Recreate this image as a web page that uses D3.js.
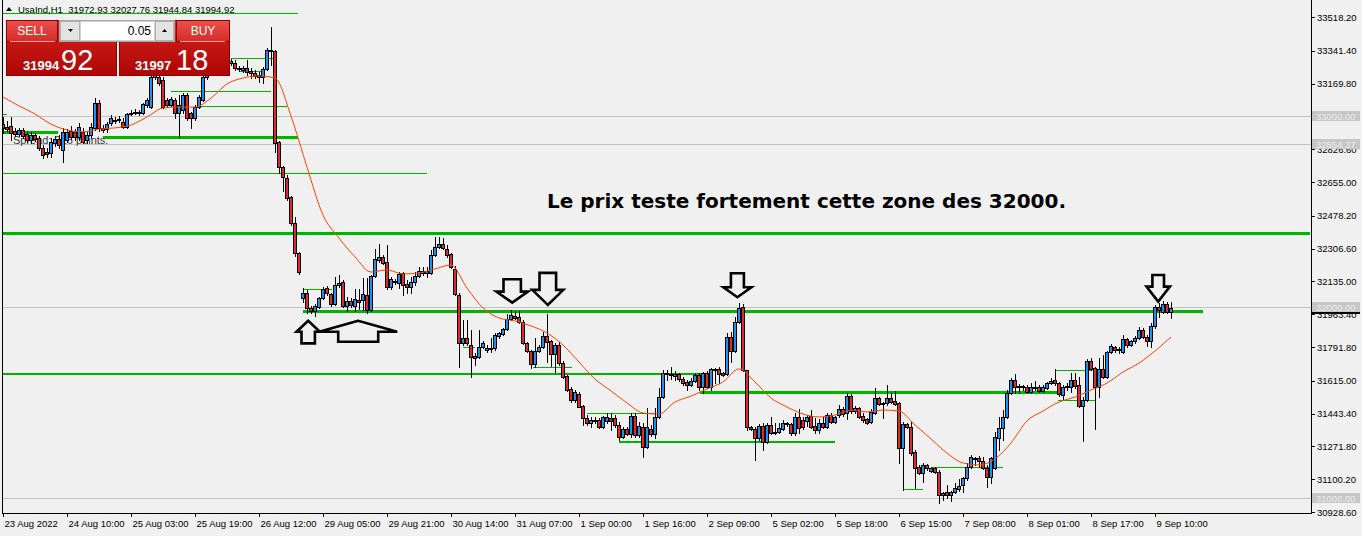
<!DOCTYPE html>
<html>
<head>
<meta charset="UTF-8">
<title>UsaInd,H1</title>
<style>
  body { margin: 0; background: #f0f0f0; overflow: hidden; }
  svg { display: block; font-family: "Liberation Sans", Arial, sans-serif; }
  .axis text { font-size: 9.5px; fill: #000; }
  .axis line { stroke: #000; shape-rendering: crispEdges; }
  .axis path { display: none; }
</style>
</head>
<body>
<svg id="chart" width="1362" height="536"></svg>
<script src="https://d3js.org/d3.v7.min.js"></script>
<script>
// symbole et prix du moment
var symbol = "UsaInd,H1";
var bid = 31994.92, ask = 31997.18, lot = "0.05";

// bougies H1 (ouverture, plus haut, plus bas, cloture)
var opens = [
  32958,32943,32948,32922,32906,32927,32906,32875,32901,32885,
  32833,32812,32807,32859,32880,32822,32875,32922,32917,32890,
  32917,32875,32901,32937,33068,32937,32932,32964,32974,32984,
  32969,32943,33011,33021,33016,33016,33058,33047,33204,33204,
  33189,33084,33058,33084,33016,33032,33110,33016,32990,33047,
  33084,33204,33251,33230,33272,33304,33283,33277,33277,33251,
  33241,33251,33236,33225,33215,33204,33246,33346,33340,32864,
  32733,32676,32576,32440,32284,32048,32074,31996,31980,32001,
  32048,32100,32069,32017,32116,32132,32006,32032,32006,32038,
  32038,32064,31985,32163,32247,32263,32236,32106,32132,32127,
  32179,32121,32106,32132,32163,32189,32179,32179,32273,32315,
  32331,32304,32278,32200,32064,31813,31839,31802,31745,31739,
  31792,31776,31781,31786,31849,31860,31886,31938,31954,31949,
  31923,31813,31771,31703,31771,31792,31849,31823,31755,31802,
  31708,31640,31572,31514,31546,31483,31420,31394,31405,31410,
  31373,31405,31420,31420,31384,31321,31363,31337,31431,31331,
  31373,31269,31363,31337,31426,31530,31656,31645,31640,31650,
  31624,31609,31593,31614,31645,31583,31656,31583,31677,31677,
  31656,31650,31844,31771,31923,32001,31671,31373,31363,31316,
  31379,31295,31384,31347,31347,31363,31389,31389,31342,31426,
  31410,31405,31431,31379,31358,31394,31373,31436,31400,31436,
  31467,31447,31535,31457,31473,31431,31415,31400,31447,31525,
  31499,31499,31525,31509,31499,31263,31389,31373,31243,31164,
  31133,31175,31143,31159,31138,31018,31033,31018,31033,31049,
  31070,31107,31164,31211,31211,31196,31159,31112,31159,31316,
  31368,31426,31551,31619,31588,31583,31583,31556,31583,31583,
  31562,31577,31603,31619,31603,31541,31583,31583,31619,31593,
  31483,31514,31719,31682,31583,31677,31635,31766,31792,31776,
  31766,31834,31802,31823,31839,31881,31844,31823,31902,32001,
  31975,32017,31972.93
];
var highs = [
  32995,32974,32995,32937,32937,32937,32922,32917,32911,32896,
  32849,32833,32885,32896,32901,32937,32932,32948,32932,32964,
  32937,32917,32964,33094,33084,32953,32969,33005,32995,33000,
  32990,33016,33032,33037,33032,33068,33094,33209,33262,33220,
  33204,33094,33099,33094,33110,33121,33121,33021,33058,33110,
  33215,33272,33277,33293,33319,33319,33309,33298,33293,33262,
  33262,33293,33251,33241,33230,33257,33356,33466,33346,32870,
  32739,32691,32582,32472,32289,32100,32090,32006,32017,32053,
  32106,32111,32074,32158,32168,32142,32053,32048,32095,32095,
  32153,32153,32168,32304,32331,32273,32325,32158,32147,32184,
  32184,32142,32158,32184,32210,32210,32210,32299,32367,32367,
  32362,32325,32284,32215,32074,31933,31933,31881,31760,31881,
  31823,31802,31839,31865,31870,31891,31964,31985,31980,31980,
  31933,31818,31776,31839,31802,31870,31964,31828,31813,31818,
  31719,31645,31583,31567,31556,31488,31436,31426,31426,31420,
  31431,31447,31447,31436,31400,31373,31373,31447,31447,31400,
  31394,31473,31384,31473,31577,31671,31671,31687,31666,31656,
  31635,31619,31630,31656,31656,31661,31666,31682,31682,31687,
  31661,31865,31870,31949,32022,32017,31671,31379,31373,31389,
  31394,31394,31426,31394,31394,31410,31400,31394,31447,31467,
  31426,31436,31462,31420,31415,31426,31447,31447,31431,31488,
  31478,31551,31546,31483,31478,31447,31420,31467,31577,31530,
  31504,31593,31551,31562,31504,31400,31394,31400,31253,31175,
  31185,31180,31164,31164,31148,31033,31070,31039,31080,31101,
  31112,31185,31227,31216,31222,31216,31175,31216,31347,31426,
  31462,31567,31630,31650,31598,31593,31593,31603,31614,31593,
  31593,31609,31630,31677,31609,31593,31603,31656,31656,31635,
  31530,31729,31734,31687,31734,31750,31771,31807,31797,31792,
  31855,31839,31828,31849,31897,31891,31855,31917,32012,32022,
  32032,32027,32027.76
];
var lows = [
  32911,32922,32875,32896,32896,32885,32864,32859,32870,32822,
  32781,32786,32786,32843,32833,32760,32864,32880,32875,32875,
  32859,32859,32885,32927,32922,32917,32917,32953,32964,32969,
  32937,32937,33005,33011,33005,33011,33047,33042,33194,33162,
  33042,33047,33053,32990,32890,33016,32979,32937,32979,33042,
  33079,33194,33215,33220,33256,33272,33272,33267,33241,33236,
  33230,33215,33199,33199,33178,33173,33241,33267,32812,32702,
  32608,32561,32430,32268,32174,32027,31970,31970,31954,31996,
  32043,32064,32006,32012,32106,32001,31980,32001,31980,31990,
  31985,31970,31980,32158,32236,32226,32095,32095,32121,32100,
  32064,32074,32074,32116,32158,32168,32158,32174,32268,32310,
  32304,32262,32205,32064,31687,31802,31802,31635,31698,31734,
  31786,31766,31766,31776,31839,31855,31881,31933,31938,31917,
  31808,31766,31682,31687,31766,31786,31713,31692,31661,31698,
  31630,31562,31504,31504,31478,31384,31384,31373,31394,31368,
  31368,31394,31358,31373,31305,31316,31331,31321,31321,31321,
  31216,31263,31326,31316,31420,31525,31619,31624,31619,31614,
  31593,31567,31588,31609,31567,31551,31577,31567,31604,31604,
  31640,31645,31713,31766,31917,31666,31358,31358,31201,31305,
  31253,31290,31337,31337,31342,31358,31379,31331,31331,31342,
  31363,31379,31368,31342,31342,31368,31368,31394,31394,31426,
  31431,31415,31447,31447,31420,31400,31389,31394,31441,31488,
  31420,31488,31499,31488,31185,31044,31368,31227,31054,31128,
  31086,31148,31138,31133,30976,30991,31002,30986,31028,31039,
  31033,31096,31159,31175,31164,31154,31060,31080,31154,31253,
  31305,31420,31546,31551,31551,31567,31551,31551,31567,31556,
  31556,31572,31598,31593,31535,31520,31567,31556,31577,31478,
  31300,31509,31671,31363,31530,31630,31630,31760,31766,31760,
  31760,31792,31797,31813,31834,31839,31797,31792,31891,31949,
  31970,31970,31944.84
];
var closes = [
  32937,32932,32911,32906,32927,32896,32875,32901,32880,32833,
  32796,32802,32864,32880,32849,32917,32917,32890,32890,32943,
  32864,32901,32943,33068,32937,32927,32958,32990,32979,32979,
  32943,33011,33016,33016,33021,33063,33084,33204,33241,33173,
  33047,33058,33089,33016,33058,33110,32990,32990,33047,33099,
  33204,33251,33230,33272,33304,33288,33293,33288,33251,33246,
  33251,33230,33225,33209,33204,33246,33346,33340,32859,32733,
  32681,32571,32440,32284,32184,32074,31996,31980,32006,32048,
  32095,32074,32017,32116,32127,32006,32032,32012,32043,32027,
  32069,31985,32163,32252,32263,32231,32106,32147,32137,32174,
  32116,32106,32132,32163,32189,32179,32189,32273,32315,32331,
  32310,32273,32210,32069,31813,31839,31813,31739,31734,31792,
  31813,31786,31786,31855,31865,31886,31938,31959,31943,31923,
  31813,31771,31703,31771,31792,31849,31818,31755,31802,31708,
  31635,31567,31514,31556,31478,31420,31394,31410,31410,31373,
  31426,31426,31405,31384,31321,31363,31337,31431,31331,31379,
  31269,31373,31337,31426,31530,31656,31650,31650,31650,31624,
  31603,31593,31614,31645,31583,31656,31583,31677,31671,31650,
  31645,31844,31771,31923,31996,31671,31373,31363,31316,31379,
  31295,31384,31342,31342,31368,31394,31394,31342,31426,31368,
  31373,31426,31373,31358,31394,31373,31436,31400,31426,31467,
  31441,31535,31457,31473,31426,31410,31394,31452,31525,31494,
  31494,31525,31504,31494,31263,31389,31373,31237,31159,31133,
  31175,31159,31159,31138,31018,31028,31018,31033,31054,31065,
  31107,31164,31216,31211,31196,31159,31112,31211,31321,31368,
  31426,31551,31619,31583,31583,31588,31556,31583,31577,31562,
  31583,31603,31614,31603,31546,31583,31588,31619,31588,31483,
  31514,31719,31677,31583,31677,31635,31766,31797,31776,31781,
  31834,31802,31823,31839,31881,31844,31823,31902,32001,31985,
  32017,31975,31994.92
];

// moyenne mobile, une valeur toutes les 4 bougies
var maStep = 4;
var maValues = [
  33100,33053,33011,32958,32927,32917,32932,32938,32953,32995,
  33042,33047,33047,33094,33168,33199,33210,33199,33000,32733,
  32482,32362,32263,32184,32195,32174,32179,32200,32221,32100,
  31996,31944,31928,31902,31865,31802,31713,31624,31562,31499,
  31447,31441,31504,31535,31572,31609,31677,31609,31525,31478,
  31441,31426,31436,31462,31452,31462,31457,31384,31311,31237,
  31185,31175,31206,31290,31405,31457,31504,31530,31567,31603,
  31661,31708,31771,31844
];

// graduations
var yTicks = [33518.2,33341.4,33169.8,32826.6,32655.0,32478.2,32306.6,32135.0,
              31963.4,31791.8,31615.0,31443.4,31271.8,31100.2,30928.6];
var xTickBars = [0,16,32,48,64,80,96,112,128,144,160,176,192,208,224,240,256,272,288];
var xTickLabels = ["23 Aug 2022","24 Aug 10:00","25 Aug 03:00","25 Aug 19:00","26 Aug 12:00",
  "29 Aug 05:00","29 Aug 21:00","30 Aug 14:00","31 Aug 07:00","1 Sep 00:00","1 Sep 16:00",
  "2 Sep 09:00","5 Sep 02:00","5 Sep 18:00","6 Sep 15:00","7 Sep 08:00","8 Sep 01:00",
  "8 Sep 17:00","9 Sep 10:00"];

// niveaux gris (prix ronds)
var greyLevels = [33000, 32854.37, 32000, 31000];

// niveaux verts traces a la main : prix, barre de debut, barre de fin
var levelPrices = [33541,33302,33236,33131,33053,33009,32917,32890,32702,32388,32095,
                   31980,31792,31687,31657,31556,31447,31300,31166,31049,31672,31515];
var levelFrom = [0,57,59.25,42,49,0,0,25,0,0,75,75,115,132.5,0,174.25,146,154,232.25,225,263.25,263.75];
var levelTo = [73.75,67.5,65,67,71,1,13.75,73.75,106,326.75,82.25,300,118,142.25,176,263.75,163,208,250,230,272.25,273];
var levelWidth = [1,1,1,1,1,1,3,3,1,3,1,2.5,1,1,2,3,1,2,1,1,1,1];

// fleches : barre, prix de la pointe, sens
var arrowBars = [76.3, 88.8, 127.3, 136.2, 183.6, 288.8];
var arrowPrices = [31929, 31929, 32024, 32012, 32052, 32029];
var arrowDirs = ["up","up","down","down","down","down"];
// taille : demi tete, demi corps, hauteur tete, longueur totale
var arrowShapes = [[11.7,6.7,11,22.6],[39,20,11,21],[15.8,8.7,11,23.4],[15.5,8.3,15,32],[14,6.5,10,24],[11.7,5.8,15,26.7]];

var noteText = "Le prix teste fortement cette zone des 32000.";
var noteBar = 136, notePrice = 32519;

var svg = d3.select("#chart");
var fmt = d3.format(".2f");

var x = d3.scaleLinear().domain([0, 292]).range([3, 1171]);
var y = d3.scaleLinear().domain([30928.6, 33518.2]).range([512, 17]);

var bars = opens.map(function(o, i) {
  return { i: i, o: o, h: highs[i], l: lows[i], c: closes[i] };
});

svg.append("rect").attr("width", 1362).attr("height", 536).attr("fill", "#f0f0f0");

var defs = svg.append("defs");
defs.append("clipPath").attr("id", "plot")
  .append("rect").attr("x", 2).attr("y", 0).attr("width", 1309).attr("height", 513);

function grad(id, c1, c2) {
  var g = defs.append("linearGradient").attr("id", id)
    .attr("x1", 0).attr("y1", 0).attr("x2", 0).attr("y2", 1);
  g.append("stop").attr("offset", "0%").attr("stop-color", c1);
  g.append("stop").attr("offset", "100%").attr("stop-color", c2);
}
grad("btnRed", "#ea4f4b", "#d62c28");
grad("priceRed", "#d62320", "#ad0604");

var plot = svg.append("g").attr("clip-path", "url(#plot)");

// lignes grises
plot.selectAll(".grey").data(greyLevels).enter().append("line")
  .attr("class", "grey")
  .attr("x1", 2).attr("x2", 1311)
  .attr("y1", function(d) { return Math.round(y(d)) + 0.5; })
  .attr("y2", function(d) { return Math.round(y(d)) + 0.5; })
  .attr("stroke", "#c3c3c3")
  .attr("shape-rendering", "crispEdges");

// lignes vertes
plot.selectAll(".lvl").data(levelPrices).enter().append("line")
  .attr("class", "lvl")
  .attr("x1", function(d, k) { return x(levelFrom[k]); })
  .attr("x2", function(d, k) { return x(levelTo[k]); })
  .attr("y1", function(d) { return Math.round(y(d)) + 0.5; })
  .attr("y2", function(d) { return Math.round(y(d)) + 0.5; })
  .attr("stroke", "#00b400")
  .attr("stroke-width", function(d, k) { return levelWidth[k]; })
  .attr("shape-rendering", "crispEdges");

// commentaire du spread
plot.append("text")
  .attr("x", 13).attr("y", 144)
  .style("font-size", "11px").attr("fill", "#3a3a3a")
  .text("Spread: " + Math.round((ask - bid) * 100) + " points.");

// bougies : meche d'un pixel, corps de 4 pixels (2 de couleur) borde de noir
var candle = plot.selectAll(".candle").data(bars).enter().append("g").attr("class", "candle");
candle.append("line")
  .attr("x1", function(d) { return x(d.i) + 0.5; })
  .attr("x2", function(d) { return x(d.i) + 0.5; })
  .attr("y1", function(d) { return Math.round(y(d.h)); })
  .attr("y2", function(d) { return Math.round(y(d.l)) + 1; })
  .attr("stroke", "#000")
  .attr("shape-rendering", "crispEdges");
candle.append("rect")
  .attr("x", function(d) { return x(d.i) - 1.5; })
  .attr("width", 3)
  .attr("y", function(d) { return Math.round(y(Math.max(d.o, d.c))) + 0.5; })
  .attr("height", function(d) {
    return Math.max(1, Math.round(y(Math.min(d.o, d.c))) - Math.round(y(Math.max(d.o, d.c))));
  })
  .attr("fill", function(d) { return d.c >= d.o ? "#1e8ff5" : "#e02a26"; })
  .attr("stroke", "#000")
  .attr("stroke-width", 1)
  .attr("shape-rendering", "crispEdges");

// moyenne mobile
var maLine = d3.line()
  .x(function(d, k) { return x(k * maStep); })
  .y(function(d) { return y(d); })
  .curve(d3.curveMonotoneX);
plot.append("path").datum(maValues)
  .attr("d", maLine)
  .attr("fill", "none")
  .attr("stroke", "#ff4500")
  .attr("stroke-width", 1);

// fleches
function arrowPath(k) {
  var cx = x(arrowBars[k]), ty = y(arrowPrices[k]);
  var s = arrowShapes[k], hw = s[0], sw = s[1], hh = s[2], len = s[3];
  var sg = arrowDirs[k] === "down" ? -1 : 1;
  var p = [[cx, ty], [cx - hw, ty + sg * hh], [cx - sw, ty + sg * hh], [cx - sw, ty + sg * len],
           [cx + sw, ty + sg * len], [cx + sw, ty + sg * hh], [cx + hw, ty + sg * hh]];
  return "M" + p.map(function(q) { return q[0] + "," + q[1]; }).join("L") + "Z";
}
plot.selectAll(".arrow").data(arrowBars).enter().append("path")
  .attr("class", "arrow")
  .attr("d", function(d, k) { return arrowPath(k); })
  .attr("fill", "none")
  .attr("stroke", "#000")
  .attr("stroke-width", 2.6)
  .attr("stroke-linejoin", "miter");

plot.append("text")
  .attr("x", x(noteBar)).attr("y", y(notePrice))
  .style("font-family", "'DejaVu Sans', sans-serif")
  .style("font-weight", "bold")
  .style("font-size", "20px")
  .attr("fill", "#000")
  .text(noteText);

// axe des prix
var yAxis = d3.axisRight(y).tickValues(yTicks).tickSize(4).tickPadding(2).tickFormat(fmt);
svg.append("g").attr("class", "axis").attr("transform", "translate(1311,0)").call(yAxis);

// axe du temps
var xAxis = d3.axisBottom(x).tickValues(xTickBars).tickSize(4).tickPadding(3)
  .tickFormat(function(d, k) { return xTickLabels[k]; });
var gx = svg.append("g").attr("class", "axis").attr("transform", "translate(0,513)").call(xAxis);
gx.selectAll("text").attr("text-anchor", "start").attr("x", 1);

// etiquette du bid (cachee en partie) puis etiquettes grises
svg.append("rect").attr("x", 1312).attr("y", Math.round(y(bid)) - 6)
  .attr("width", 48).attr("height", 12).attr("fill", "#000");
var tags = svg.selectAll(".tag").data(greyLevels).enter().append("g").attr("class", "tag");
tags.append("rect")
  .attr("x", 1312).attr("y", function(d) { return Math.round(y(d)) - 5; })
  .attr("width", 48).attr("height", 10).attr("fill", "#c6c6c6");
tags.append("text")
  .attr("x", 1316).attr("y", function(d) { return Math.round(y(d)) + 4; })
  .style("font-size", "9.5px").attr("fill", "#ededed")
  .text(function(d) { return fmt(d); });

// cadre
var frame = svg.append("g").attr("stroke", "#000").attr("shape-rendering", "crispEdges");
frame.append("line").attr("x1", 2.5).attr("x2", 2.5).attr("y1", 0).attr("y2", 514);
frame.append("line").attr("x1", 2).attr("x2", 1312).attr("y1", 513.5).attr("y2", 513.5);
frame.append("line").attr("x1", 1311.5).attr("x2", 1311.5).attr("y1", 0).attr("y2", 514);

// entete
var last = bars[bars.length - 1];
svg.append("path").attr("d", "M6,11L9,7L12,11Z").attr("fill", "#000");
svg.append("text")
  .attr("x", 18).attr("y", 13)
  .style("font-size", "9.5px").style("white-space", "pre")
  .attr("fill", "#000")
  .text(symbol + "  " + [last.o, last.h, last.l, last.c].map(fmt).join(" "));

// panneau de trading
var panel = svg.append("g");
panel.append("rect").attr("x", 6.5).attr("y", 20.5).attr("width", 110).attr("height", 55)
  .attr("fill", "url(#priceRed)").attr("stroke", "#8e0000");
panel.append("rect").attr("x", 119.5).attr("y", 20.5).attr("width", 110).attr("height", 55)
  .attr("fill", "url(#priceRed)").attr("stroke", "#8e0000");
panel.append("rect").attr("x", 6.5).attr("y", 20.5).attr("width", 51).attr("height", 21)
  .attr("fill", "url(#btnRed)").attr("stroke", "#8e0000");
panel.append("rect").attr("x", 176.5).attr("y", 20.5).attr("width", 53).attr("height", 21)
  .attr("fill", "url(#btnRed)").attr("stroke", "#8e0000");
panel.append("line").attr("x1", 10).attr("x2", 55).attr("y1", 41.5).attr("y2", 41.5).attr("stroke", "#f3a0a0");
panel.append("line").attr("x1", 180).attr("x2", 225).attr("y1", 41.5).attr("y2", 41.5).attr("stroke", "#f3a0a0");

panel.append("rect").attr("x", 59.5).attr("y", 20.5).attr("width", 115).attr("height", 21)
  .attr("fill", "#efefef").attr("stroke", "#a8a8a8");
panel.append("rect").attr("x", 60.5).attr("y", 21.5).attr("width", 19).attr("height", 19)
  .attr("fill", "#e3e3e3").attr("stroke", "#b0b0b0");
panel.append("rect").attr("x", 80.5).attr("y", 21.5).attr("width", 74).attr("height", 19)
  .attr("fill", "#fff").attr("stroke", "#d0d0d0");
panel.append("rect").attr("x", 155.5).attr("y", 21.5).attr("width", 18).attr("height", 19)
  .attr("fill", "#e3e3e3").attr("stroke", "#b0b0b0");
panel.append("path").attr("d", "M68,29L73,29L70.5,32Z").attr("fill", "#000");
panel.append("path").attr("d", "M162,32L167,32L164.5,29Z").attr("fill", "#000");
panel.append("text").attr("x", 151).attr("y", 35).attr("text-anchor", "end")
  .style("font-size", "12px").attr("fill", "#000").text(lot);

panel.append("text").attr("x", 32).attr("y", 35).attr("text-anchor", "middle")
  .style("font-size", "12px").attr("fill", "#fff").text("SELL");
panel.append("text").attr("x", 203).attr("y", 35).attr("text-anchor", "middle")
  .style("font-size", "12px").attr("fill", "#fff").text("BUY");

function priceParts(p) {
  var s = fmt(p).split(".");
  return [s[0], s[1]];
}
var bp = priceParts(bid), ap = priceParts(ask);
panel.append("text").attr("x", 23).attr("y", 70)
  .style("font-size", "13px").style("font-weight", "bold").attr("fill", "#fff").text(bp[0]);
panel.append("text").attr("x", 61).attr("y", 70)
  .style("font-size", "29px").attr("fill", "#fff").text(bp[1]);
panel.append("text").attr("x", 135).attr("y", 70)
  .style("font-size", "13px").style("font-weight", "bold").attr("fill", "#fff").text(ap[0]);
panel.append("text").attr("x", 176).attr("y", 70)
  .style("font-size", "29px").attr("fill", "#fff").text(ap[1]);
</script>
</body>
</html>
